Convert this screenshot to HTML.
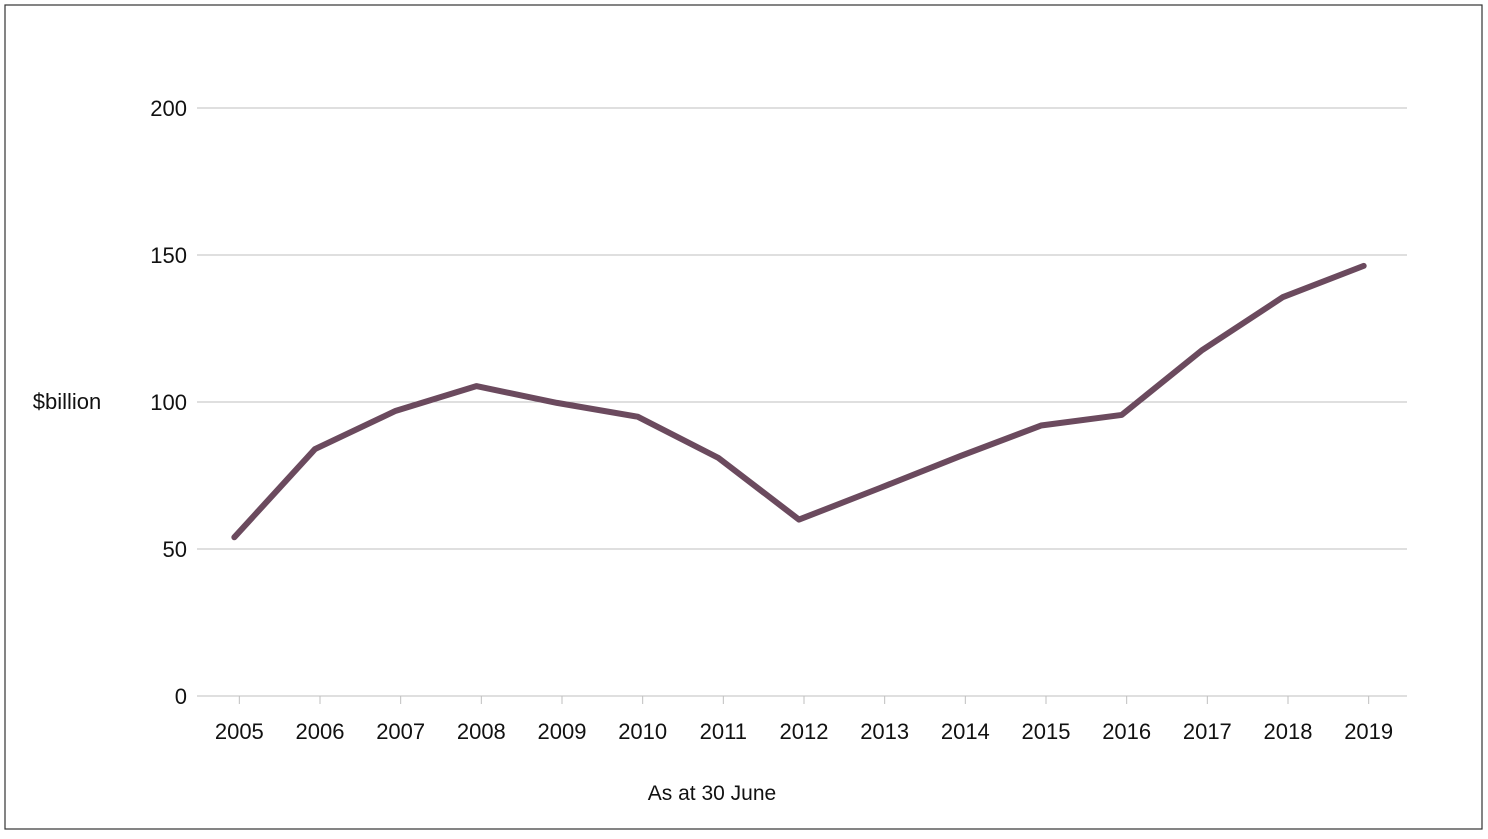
<!DOCTYPE html>
<html><head><meta charset="utf-8"><style>
body{margin:0;background:#fff;font-family:"Liberation Sans",sans-serif;}
svg{display:block}
</style></head><body>
<svg width="1488" height="839">
<rect x="5" y="5" width="1477" height="824" fill="#fff" stroke="#333" stroke-width="1.2"/>
<g id="grid"></g><g id="axis"></g><g id="series"></g>
<text x="67" y="409" font-size="22" text-anchor="middle" fill="#111">$billion</text>
<text x="712" y="800" font-size="21" text-anchor="middle" fill="#111">As at 30 June</text>
</svg>
<script>
const categories=["2005","2006","2007","2008","2009","2010","2011","2012","2013","2014","2015","2016","2017","2018","2019"];
const values=[54,84,97,105.4,99.7,95,81,60,70.7,81.6,92,95.6,117.7,135.7,146.3];
const yTicks=[0,50,100,150,200];
const NS="http://www.w3.org/2000/svg";
const x0=197,x1=1407,y0=696,y1=108,yMax=200;
const bw=(x1-x0)/categories.length;
const xS=i=>x0+bw*(i+0.5)-3;
const yS=v=>y0-(v/yMax)*(y0-y1);
function mk(t,a,p){const e=document.createElementNS(NS,t);for(const k in a)e.setAttribute(k,a[k]);p.appendChild(e);return e;}
const grid=document.getElementById('grid'),axis=document.getElementById('axis'),series=document.getElementById('series');
yTicks.forEach(v=>{
 const l=mk('line',{x1:x0,x2:x1,y1:yS(v),y2:yS(v),stroke:'#bfbfbf','stroke-width':1},grid);
 
 
 const t=mk('text',{x:187,y:yS(v)+8,'font-size':22,'text-anchor':'end',fill:'#111'},axis);
 t.textContent=v;
 
 
});
categories.forEach((c,i)=>{
 const tk=mk('line',{x1:xS(i)+5,x2:xS(i)+5,y1:y0,y2:y0+8,stroke:'#bfbfbf','stroke-width':1},axis);
 
 
 const t=mk('text',{x:xS(i)+5,y:739,'font-size':22,'text-anchor':'middle',fill:'#111'},axis);
 t.textContent=c;
 
 
});
const p=mk('polyline',{points:values.map((v,i)=>xS(i)+','+yS(v)).join(' '),fill:'none',stroke:'#6b4a5e','stroke-width':6,'stroke-linejoin':'round','stroke-linecap':'round'},series);


</script>
</body></html>
